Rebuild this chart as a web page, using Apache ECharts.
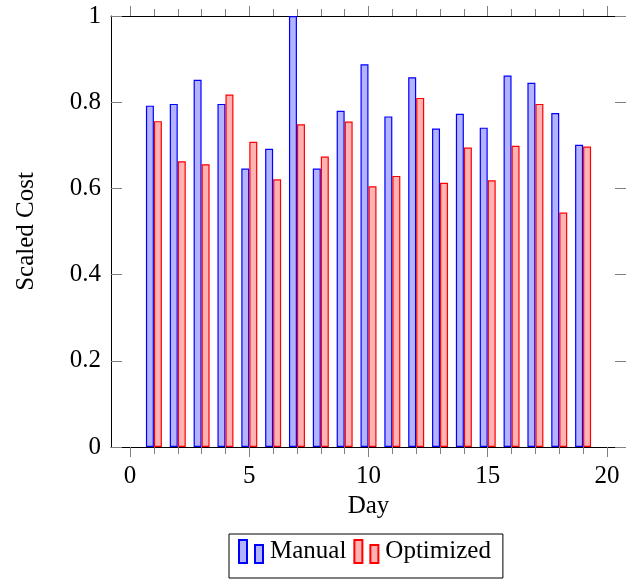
<!DOCTYPE html>
<html>
<head>
<meta charset="utf-8">
<script src="https://cdn.jsdelivr.net/npm/echarts@6/dist/echarts.min.js"></script>
<style>
  html, body { margin: 0; padding: 0; background: #fff; }
  #main { width: 626px; height: 579px; }
</style>
</head>
<body>
<div id="main"></div>
<script>
var days = [1, 2, 3, 4, 5, 6, 7, 8, 9, 10, 11, 12, 13, 14, 15, 16, 17, 18, 19];
var manual = [0.792, 0.796, 0.852, 0.796, 0.646, 0.692, 1.0, 0.646, 0.780, 0.888,
  0.767, 0.858, 0.739, 0.773, 0.741, 0.862, 0.845, 0.775, 0.701];
var optimized = [0.756, 0.663, 0.656, 0.818, 0.708, 0.621, 0.749, 0.674, 0.755, 0.605,
  0.629, 0.810, 0.613, 0.695, 0.619, 0.699, 0.796, 0.544, 0.697];
var majorTicks = [0, 5, 10, 15, 20];
var minorTicks = [];
for (var i = 0; i <= 20; ++i) {
  minorTicks.push(i);
}

var font = 'Liberation Serif';
var fs = 25;
var tickGrey = '#808080';
var legendIcon = 'path://M0,0 h8 v23 h-8 Z M16,5 h8 v18 h-8 Z';

function pairs(ys) {
  var out = [];
  for (var i = 0; i < days.length; ++i) {
    out.push([days[i], ys[i]]);
  }
  return out;
}

function xAxisDef(pos, ticks, len, showLine, showLabel) {
  return {
    type: 'value',
    position: pos,
    min: -0.8,
    max: 20.8,
    splitLine: { show: false },
    axisLine: { show: showLine, onZero: false, lineStyle: { color: '#000', width: 1 } },
    axisTick: {
      show: true,
      inside: false,
      length: len,
      customValues: ticks,
      lineStyle: { color: tickGrey, width: 1 }
    },
    axisLabel: {
      show: showLabel,
      customValues: majorTicks,
      margin: 17,
      color: '#000',
      fontFamily: font,
      fontSize: fs
    }
  };
}

function yAxisDef(pos, showLabel) {
  return {
    type: 'value',
    position: pos,
    min: 0,
    max: 1,
    interval: 0.2,
    splitLine: { show: false },
    axisLine: { show: true, onZero: false, lineStyle: { color: '#000', width: 1 } },
    axisTick: { show: true, inside: true, length: 11, lineStyle: { color: tickGrey } },
    axisLabel: { show: showLabel, margin: 10, color: '#000', fontFamily: font, fontSize: fs }
  };
}

var chart = echarts.init(document.getElementById('main'));

var bottomAxis = xAxisDef('bottom', majorTicks, 10, true, true);
bottomAxis.name = 'Day';
bottomAxis.nameLocation = 'middle';
bottomAxis.nameGap = 45;
bottomAxis.nameTextStyle = { color: '#000', fontFamily: font, fontSize: fs };

var leftAxis = yAxisDef('left', true);
leftAxis.name = 'Scaled Cost';
leftAxis.nameLocation = 'middle';
leftAxis.nameGap = 72;
leftAxis.nameTextStyle = { color: '#000', fontFamily: font, fontSize: fs };

var option = {
  backgroundColor: '#fff',
  animation: false,
  grid: { left: 111, top: 16, width: 518.4, height: 431 },
  xAxis: [
    bottomAxis,
    xAxisDef('bottom', minorTicks, 7, false, false),
    xAxisDef('top', majorTicks, 10, true, false),
    xAxisDef('top', minorTicks, 7, false, false)
  ],
  yAxis: [leftAxis, yAxisDef('right', false)],
  legend: {
    left: 229,
    top: 534,
    padding: [5, 12, 14, 9],
    borderColor: '#000',
    borderWidth: 1,
    itemWidth: 24,
    itemHeight: 23,
    itemGap: 7,
    icon: legendIcon,
    textStyle: { color: '#000', fontFamily: font, fontSize: fs, padding: [0, 0, 0, 2] },
    data: ['Manual', 'Optimized']
  },
  series: [{
    name: 'Manual',
    type: 'bar',
    xAxisIndex: 0,
    yAxisIndex: 0,
    barWidth: 8,
    barGap: '0%',
    itemStyle: { color: '#b3b3ff', borderColor: '#0000ff', borderWidth: 1.2 },
    data: pairs(manual)
  }, {
    name: 'Optimized',
    type: 'bar',
    xAxisIndex: 0,
    yAxisIndex: 0,
    barWidth: 8,
    barGap: '0%',
    itemStyle: { color: '#ffb3b3', borderColor: '#ff0000', borderWidth: 1.2 },
    data: pairs(optimized)
  }]
};

chart.setOption(option);
</script>
</body>
</html>
